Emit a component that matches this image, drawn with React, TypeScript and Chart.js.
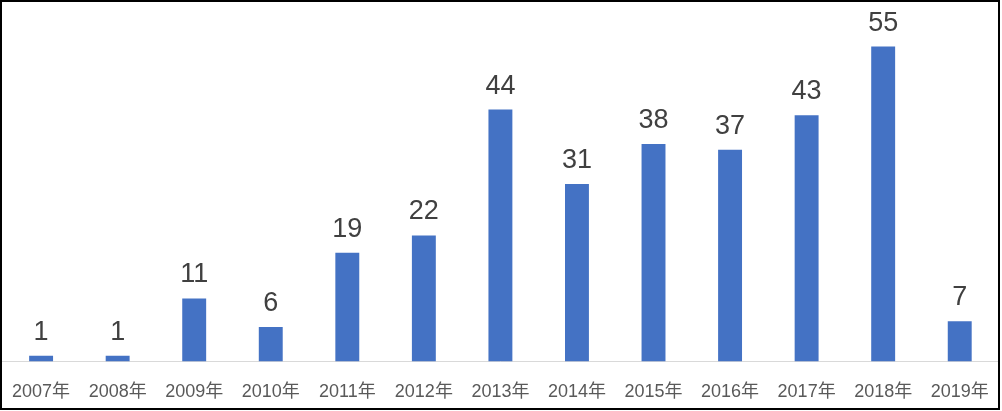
import React, { useEffect, useRef } from "react";
import { Chart, registerables } from "chart.js";

Chart.register(...registerables);

const categories = ["2007年", "2008年", "2009年", "2010年", "2011年", "2012年", "2013年", "2014年", "2015年", "2016年", "2017年", "2018年", "2019年"];
const values = [1, 1, 11, 6, 19, 22, 44, 31, 38, 37, 43, 55, 7];

const FONT = "'Liberation Sans', 'Noto Sans CJK SC', sans-serif";

const labelPlugin = {
  id: "barLabels",
  afterDatasetsDraw(chart: any) {
    const ctx = chart.ctx;
    const meta = chart.getDatasetMeta(0);
    ctx.save();
    ctx.font = `27px ${FONT}`;
    ctx.fillStyle = "#404040";
    ctx.textAlign = "center";
    ctx.textBaseline = "alphabetic";
    meta.data.forEach((bar: any, i: number) => {
      ctx.fillText(String(chart.data.datasets[0].data[i]), bar.x, bar.y - 16);
    });
    ctx.restore();
  },
};

export default function App() {
  const ref = useRef<HTMLCanvasElement>(null);
  useEffect(() => {
    if (!ref.current) return;
    const chart = new Chart(ref.current, {
      type: "bar",
      data: {
        labels: categories,
        datasets: [
          {
            data: values,
            backgroundColor: "#4472C4",
            borderWidth: 0,
            barPercentage: 0.3125,
            categoryPercentage: 1,
          },
        ],
      },
      options: {
        responsive: false,
        animation: false,
        layout: { padding: { left: 2, right: 4, top: 18, bottom: -4 } },
        plugins: { legend: { display: false }, tooltip: { enabled: false } },
        scales: {
          x: {
            grid: { display: false },
            border: { display: true, color: "#d9d9d9", width: 1 },
            ticks: { color: "#595959", font: { size: 18, family: FONT }, padding: 12, maxRotation: 0, autoSkip: false },
          },
          y: { display: false, min: 0, max: 60 },
        },
      },
      plugins: [labelPlugin],
    });
    return () => chart.destroy();
  }, []);
  return (
    <div style={{ position: "fixed", left: 0, top: 0, width: 1002, height: 411, background: "#fff", overflow: "hidden" }}>
      <canvas ref={ref} width={1002} height={411} style={{ position: "absolute", left: 0, top: 0 }} />
      <div
        style={{
          position: "absolute",
          left: 0,
          top: 0,
          width: 1000,
          height: 410,
          border: "2px solid #000",
          boxSizing: "border-box",
          pointerEvents: "none",
        }}
      />
    </div>
  );
}
